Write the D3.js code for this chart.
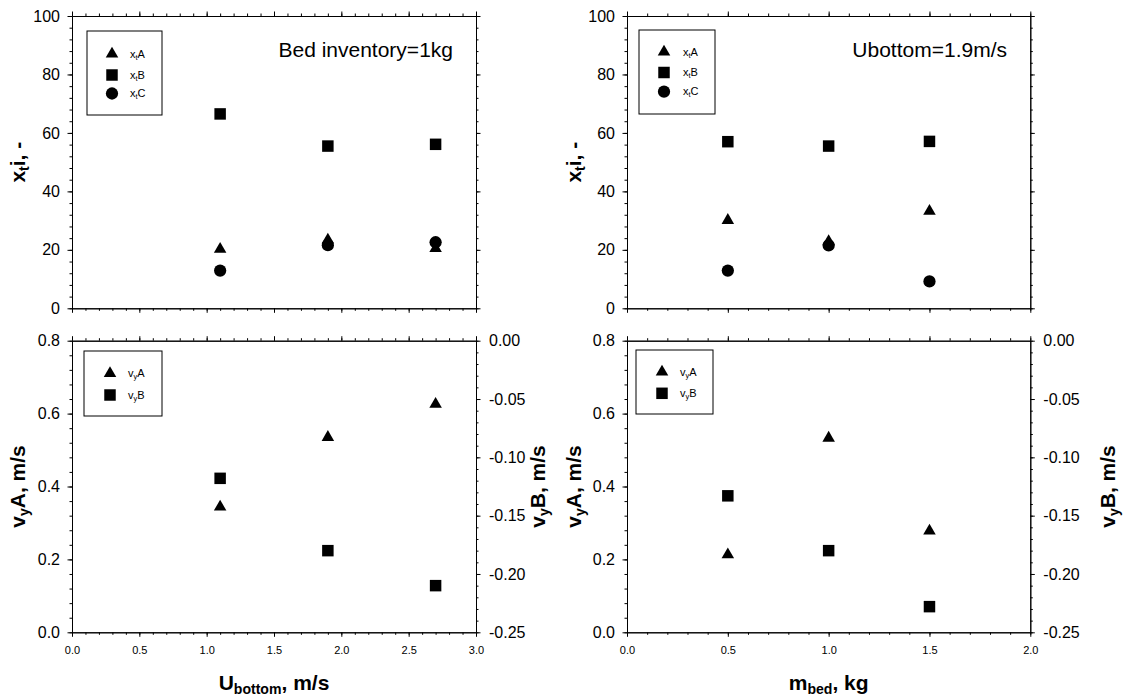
<!DOCTYPE html>
<html>
<head>
<meta charset="utf-8">
<script src="https://cdn.jsdelivr.net/npm/d3@7"></script>
<style>
  body { margin: 0; background: #fff; }
  svg { font-family: 'Liberation Sans', Arial, sans-serif; }
  .domain, .tick line { stroke: #000; stroke-width: 1; }
  .tick text { fill: #000; }
</style>
</head>
<body>
<svg class="canvas" width="1123" height="700"></svg>
<script>
'use strict';

// Left column: varying bottom gas velocity (bed inventory = 1 kg)
const uBottom = [1.1, 1.9, 2.7];
const uXtA = [20.2, 23.4, 20.5];
const uXtB = [66.5, 55.5, 56.1];
const uXtC = [12.9, 21.6, 22.6];
const uVyA = [0.344, 0.535, 0.626];
const uVyB = [-0.118, -0.18, -0.21];

// Right column: varying bed inventory (Ubottom = 1.9 m/s)
const mBed = [0.5, 1.0, 1.5];
const mXtA = [30.1, 22.9, 33.2];
const mXtB = [57.0, 55.5, 57.1];
const mXtC = [12.9, 21.5, 9.2];
const mVyA = [0.213, 0.533, 0.278];
const mVyB = [-0.133, -0.18, -0.228];

const xtTicks = [0, 20, 40, 60, 80, 100];
const vyATicks = [0, 0.2, 0.4, 0.6, 0.8];
const vyBTicks = [0, -0.05, -0.1, -0.15, -0.2, -0.25];

const svg = d3.select('.canvas');

const cols = [
  { left: 72, right: 476, domain: [0, 3], xs: uBottom, yLabX: 25, rLabX: 545 },
  { left: 627, right: 1030.3, domain: [0, 2], xs: mBed, yLabX: 581, rLabX: 1115 },
];
const rows = {
  top: { top: 16, bottom: 308.3 },
  bot: { top: 340.7, bottom: 632.3 },
};

const sym = {
  A: d3.symbol().type(d3.symbolTriangle).size(68)(),
  B: d3.symbol().type(d3.symbolSquare).size(132)(),
  C: d3.symbol().type(d3.symbolCircle).size(118)(),
};

function axis(g, fn, scale, majors, minors, fmt, transform, pad) {
  g.append('g')
    .attr('transform', transform)
    .call(fn(scale).tickValues(minors).tickSize(2.5).tickSizeOuter(0).tickFormat(''));
  return g.append('g')
    .attr('transform', transform)
    .call(fn(scale).tickValues(majors).tickSize(4.5).tickSizeOuter(0)
      .tickPadding(pad || 3).tickFormat(fmt || ''));
}

function subText(sel, parts) {
  // parts: [text, isSub]
  let shifted = false;
  parts.forEach(([t, sub]) => {
    const ts = sel.append('tspan').text(t);
    if (sub && !shifted) { ts.attr('dy', '0.3em').attr('font-size', '0.67em'); shifted = true; }
    else if (!sub && shifted) { ts.attr('dy', '-0.2em'); shifted = false; }
  });
}

function points(g, x, y, xs, ys, key) {
  g.selectAll(null)
    .data(xs.map((d, i) => [d, ys[i]]))
    .join('path')
    .attr('d', sym[key])
    .attr('transform', d => `translate(${x(d[0])},${y(d[1])})`)
    .attr('fill', '#000');
}

function legend(g, box, items) {
  g.append('rect')
    .attr('x', box.x).attr('y', box.y).attr('width', box.w).attr('height', box.h)
    .attr('fill', '#fff').attr('stroke', '#000').attr('stroke-width', 1);
  items.forEach((it, i) => {
    g.append('path').attr('d', sym[it.key])
      .attr('transform', `translate(${box.mx},${box.rows[i]})`);
    const t = g.append('text')
      .attr('x', box.tx).attr('y', box.rows[i] + 3.5)
      .attr('font-size', 11);
    subText(t, [[it.a], [it.s, true], [it.b]]);
  });
}

cols.forEach((c, ci) => {
  const x = d3.scaleLinear(c.domain, [c.left, c.right]);
  const xMinor = d3.range(0, c.domain[1] * 10 + 1).map(i => i / 10);
  const xMajor = d3.range(0, c.domain[1] * 2 + 1).map(i => i / 2);

  // ---- top panel: x_t i
  const rt = rows.top;
  const yT = d3.scaleLinear([0, 100], [rt.bottom, rt.top]);
  const gT = svg.append('g');
  axis(gT, d3.axisTop, x, xMajor, xMinor, null, `translate(0,${rt.top})`);
  axis(gT, d3.axisBottom, x, xMajor, xMinor, null, `translate(0,${rt.bottom})`);
  axis(gT, d3.axisRight, yT, xtTicks, d3.range(0, 101, 4), null, `translate(${c.right},0)`);
  axis(gT, d3.axisLeft, yT, xtTicks, d3.range(0, 101, 4), d3.format('d'), `translate(${c.left},0)`, 7.5)
    .selectAll('text').attr('font-size', 16);

  const ys = ci === 0 ? [uXtA, uXtB, uXtC] : [mXtA, mXtB, mXtC];
  points(gT, x, yT, c.xs, ys[2], 'C');
  points(gT, x, yT, c.xs, ys[0], 'A');
  points(gT, x, yT, c.xs, ys[1], 'B');

  const lt = gT.append('text')
    .attr('transform', `translate(${c.yLabX},${(rt.top + rt.bottom) / 2}) rotate(-90)`)
    .attr('text-anchor', 'middle').attr('font-size', 21).attr('font-weight', 'bold');
  subText(lt, [['x'], ['t', true], ['i, -']]);

  gT.append('text')
    .attr('x', ci === 0 ? 453 : 1007).attr('y', 57)
    .attr('text-anchor', 'end').attr('font-size', 21)
    .text(ci === 0 ? 'Bed inventory=1kg' : 'Ubottom=1.9m/s');

  legend(gT,
    ci === 0
      ? { x: 87, y: 31, w: 75, h: 84, mx: 112, tx: 130, rows: [54, 75, 93.5] }
      : { x: 639, y: 30, w: 76, h: 84, mx: 664, tx: 683, rows: [52, 72.5, 91.7] },
    [
      { key: 'A', a: 'x', s: 't', b: 'A' },
      { key: 'B', a: 'x', s: 't', b: 'B' },
      { key: 'C', a: 'x', s: 't', b: 'C' },
    ]);

  // ---- bottom panel: v_y A (left) and v_y B (right)
  const rb = rows.bot;
  const yA = d3.scaleLinear([0, 0.8], [rb.bottom, rb.top]);
  const yB = d3.scaleLinear([-0.25, 0], [rb.bottom, rb.top]);
  const gB = svg.append('g');
  axis(gB, d3.axisTop, x, xMajor, xMinor, null, `translate(0,${rb.top})`);
  axis(gB, d3.axisBottom, x, xMajor, xMinor, d3.format('.1f'), `translate(0,${rb.bottom})`, 9.5)
    .selectAll('text').attr('font-size', 11);
  axis(gB, d3.axisLeft, yA, vyATicks, d3.range(0, 21).map(i => i * 0.04), d3.format('.1f'),
    `translate(${c.left},0)`, 7.5)
    .selectAll('text').attr('font-size', 16);
  axis(gB, d3.axisRight, yB, vyBTicks, d3.range(0, 26).map(i => -i * 0.01),
    d => (Math.abs(d) < 1e-9 ? '0.00' : d.toFixed(2)), `translate(${c.right},0)`, 8.5)
    .selectAll('text').attr('font-size', 16);

  points(gB, x, yA, c.xs, ci === 0 ? uVyA : mVyA, 'A');
  points(gB, x, yB, c.xs, ci === 0 ? uVyB : mVyB, 'B');

  const la = gB.append('text')
    .attr('transform', `translate(${c.yLabX},${(rb.top + rb.bottom) / 2}) rotate(-90)`)
    .attr('text-anchor', 'middle').attr('font-size', 21).attr('font-weight', 'bold');
  subText(la, [['v'], ['y', true], ['A, m/s']]);
  const lb = gB.append('text')
    .attr('transform', `translate(${c.rLabX},${(rb.top + rb.bottom) / 2}) rotate(-90)`)
    .attr('text-anchor', 'middle').attr('font-size', 21).attr('font-weight', 'bold');
  subText(lb, [['v'], ['y', true], ['B, m/s']]);

  const lx = gB.append('text')
    .attr('x', (c.left + c.right) / 2).attr('y', 690)
    .attr('text-anchor', 'middle').attr('font-size', 21).attr('font-weight', 'bold');
  subText(lx, ci === 0 ? [['U'], ['bottom', true], [', m/s']] : [['m'], ['bed', true], [', kg']]);

  legend(gB,
    ci === 0
      ? { x: 84, y: 351, w: 78, h: 65, mx: 110, tx: 128, rows: [373.5, 395] }
      : { x: 636, y: 350, w: 77, h: 64, mx: 662, tx: 680, rows: [372, 393.3] },
    [
      { key: 'A', a: 'v', s: 'y', b: 'A' },
      { key: 'B', a: 'v', s: 'y', b: 'B' },
    ]);
});
</script>
</body>
</html>
